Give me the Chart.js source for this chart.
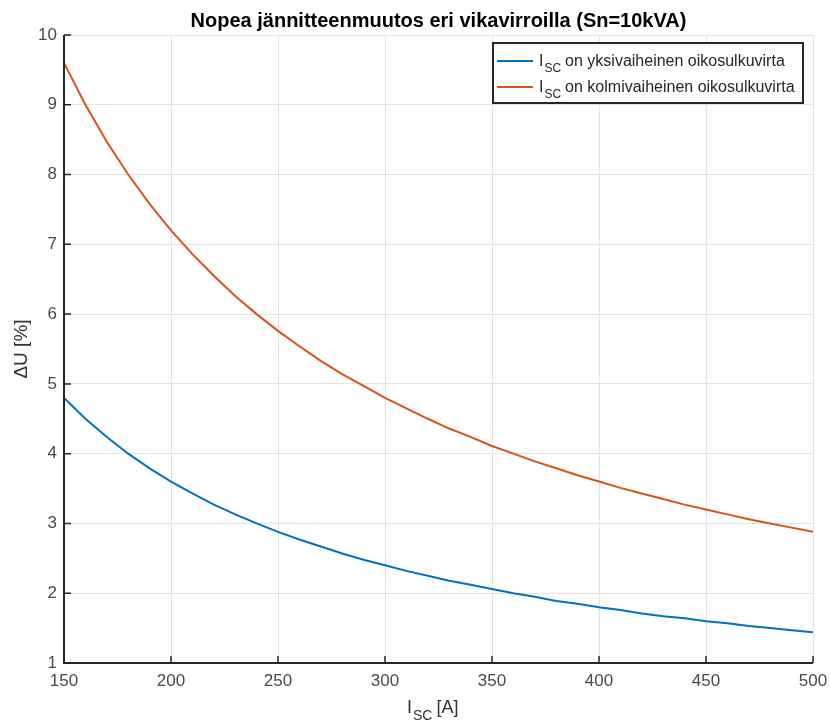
<!DOCTYPE html>
<html>
<head>
<meta charset="utf-8">
<script src="https://cdn.jsdelivr.net/npm/chart.js@4.4.1/dist/chart.umd.min.js"></script>
<style>
  html, body { margin: 0; padding: 0; background: #fff; }
  #wrap { width: 830px; height: 724px; position: relative; }
</style>
</head>
<body>
<div id="wrap"><canvas id="duChart" width="830" height="724"></canvas></div>
<script>
// Short-circuit current I_SC [A]
const currents = [150, 160, 170, 180, 190, 200, 210, 220, 230, 240, 250, 260,
  270, 280, 290, 300, 310, 320, 330, 340, 350, 360, 370, 380, 390, 400, 410,
  420, 430, 440, 450, 460, 470, 480, 490, 500];

// Voltage change dU [%], single-phase fault
const singlePhase = [4.80, 4.50, 4.24, 4.00, 3.79, 3.60, 3.43, 3.27, 3.13, 3.00,
  2.88, 2.77, 2.67, 2.57, 2.48, 2.40, 2.32, 2.25, 2.18, 2.12, 2.06, 2.00, 1.95,
  1.89, 1.85, 1.80, 1.76, 1.71, 1.67, 1.64, 1.60, 1.57, 1.53, 1.50, 1.47, 1.44];

// Voltage change dU [%], three-phase fault
const threePhase = [9.60, 9.00, 8.47, 8.00, 7.58, 7.20, 6.86, 6.55, 6.26, 6.00,
  5.76, 5.54, 5.33, 5.14, 4.97, 4.80, 4.65, 4.50, 4.36, 4.24, 4.11, 4.00, 3.89,
  3.79, 3.69, 3.60, 3.51, 3.43, 3.35, 3.27, 3.20, 3.13, 3.06, 3.00, 2.94, 2.88];

const xTicks = [150, 200, 250, 300, 350, 400, 450, 500];
const yTicks = [1, 2, 3, 4, 5, 6, 7, 8, 9, 10];

const legendTexts = ["on yksivaiheinen oikosulkuvirta", "on kolmivaiheinen oikosulkuvirta"];
const seriesColors = ["#0072BD", "#D95319"];

const FONT = "'Liberation Sans', Arial, Helvetica, sans-serif";
const AXIS_COLOR = "#262626";

function toPoints(values) {
  return currents.map((x, i) => ({ x: x, y: values[i] }));
}

// Draws "I" with subscript "SC", then the rest of the text
function drawSubI(ctx, x, y, size, rest) {
  ctx.font = size + "px " + FONT;
  ctx.fillText("I", x, y);
  let w = ctx.measureText("I").width;
  let sub = Math.round(size * 0.78);
  ctx.font = sub + "px " + FONT;
  ctx.fillText("SC", x + w + 1, y + size * 0.38);
  let w2 = ctx.measureText("SC").width;
  ctx.font = size + "px " + FONT;
  ctx.fillText(rest, x + w + 1 + w2 + 4, y);
}

const matlabLook = {
  id: "matlabLook",
  afterDraw(chart) {
    const ctx = chart.ctx;
    const a = chart.chartArea;
    const xs = chart.scales.x, ys = chart.scales.y;
    ctx.save();

    // axis lines on left and bottom, ticks pointing inward
    ctx.strokeStyle = AXIS_COLOR;
    ctx.lineWidth = 2;
    ctx.beginPath();
    ctx.moveTo(a.left, a.top);
    ctx.lineTo(a.left, a.bottom);
    ctx.lineTo(a.right, a.bottom);
    ctx.stroke();
    ctx.lineWidth = 1.5;
    ctx.beginPath();
    xTicks.forEach(v => {
      let px = xs.getPixelForValue(v);
      ctx.moveTo(px, a.bottom);
      ctx.lineTo(px, a.bottom - 7);
    });
    yTicks.forEach(v => {
      let py = ys.getPixelForValue(v);
      ctx.moveTo(a.left, py);
      ctx.lineTo(a.left + 7, py);
    });
    ctx.stroke();

    // title
    ctx.fillStyle = "#000";
    ctx.font = "bold 20px " + FONT;
    ctx.textAlign = "center";
    ctx.textBaseline = "alphabetic";
    ctx.fillText("Nopea jännitteenmuutos eri vikavirroilla (Sn=10kVA)", (a.left + a.right) / 2, 27);

    // y axis title
    ctx.fillStyle = "#333";
    ctx.save();
    ctx.translate(27, (a.top + a.bottom) / 2);
    ctx.rotate(-Math.PI / 2);
    ctx.font = "19px " + FONT;
    ctx.fillText("\u0394U [%]", 0, 0);
    ctx.restore();

    // x axis title
    ctx.textAlign = "left";
    drawSubI(ctx, 407, 713, 18, "[A]");

    // legend
    const lx = 493, ly = 43, lw = 310, lh = 60;
    ctx.fillStyle = "#fff";
    ctx.fillRect(lx, ly, lw, lh);
    ctx.strokeStyle = AXIS_COLOR;
    ctx.lineWidth = 2;
    ctx.strokeRect(lx, ly, lw, lh);
    legendTexts.forEach((t, i) => {
      let cy = ly + 18 + i * 26;
      ctx.strokeStyle = seriesColors[i];
      ctx.lineWidth = 2;
      ctx.beginPath();
      ctx.moveTo(lx + 4, cy);
      ctx.lineTo(lx + 40, cy);
      ctx.stroke();
      ctx.fillStyle = "#262626";
      drawSubI(ctx, lx + 46, cy + 5, 16, t);
    });

    ctx.restore();
  }
};

const ctx = document.getElementById("duChart").getContext("2d");
new Chart(ctx, {
  type: "line",
  data: {
    datasets: [
      {
        label: "I_SC on yksivaiheinen oikosulkuvirta",
        data: toPoints(singlePhase),
        borderColor: seriesColors[0],
        borderWidth: 2,
        pointRadius: 0,
        tension: 0,
        fill: false
      },
      {
        label: "I_SC on kolmivaiheinen oikosulkuvirta",
        data: toPoints(threePhase),
        borderColor: seriesColors[1],
        borderWidth: 2,
        pointRadius: 0,
        tension: 0,
        fill: false
      }
    ]
  },
  options: {
    responsive: false,
    animation: false,
    layout: { padding: { left: 0, top: 35, right: 0, bottom: 0 } },
    plugins: {
      legend: { display: false },
      title: { display: false },
      tooltip: { enabled: false }
    },
    scales: {
      x: {
        type: "linear",
        min: 150,
        max: 500,
        afterBuildTicks: s => { s.ticks = xTicks.map(v => ({ value: v })); },
        afterFit: s => { s.height = 61; s.paddingLeft = 0; s.paddingRight = 17; },
        border: { display: false },
        grid: { color: "#e3e3e3", lineWidth: 1, drawTicks: false },
        ticks: {
          padding: 8,
          color: "#4a4a4a",
          font: { family: FONT, size: 17 },
          maxRotation: 0
        }
      },
      y: {
        type: "linear",
        min: 1,
        max: 10,
        afterBuildTicks: s => { s.ticks = yTicks.map(v => ({ value: v })); },
        afterFit: s => { s.width = 64; s.paddingTop = 0; s.paddingBottom = 0; },
        border: { display: false },
        grid: { color: "#e3e3e3", lineWidth: 1, drawTicks: false },
        ticks: {
          padding: 7,
          color: "#4a4a4a",
          font: { family: FONT, size: 17 }
        }
      }
    }
  },
  plugins: [matlabLook]
});
</script>
</body>
</html>
